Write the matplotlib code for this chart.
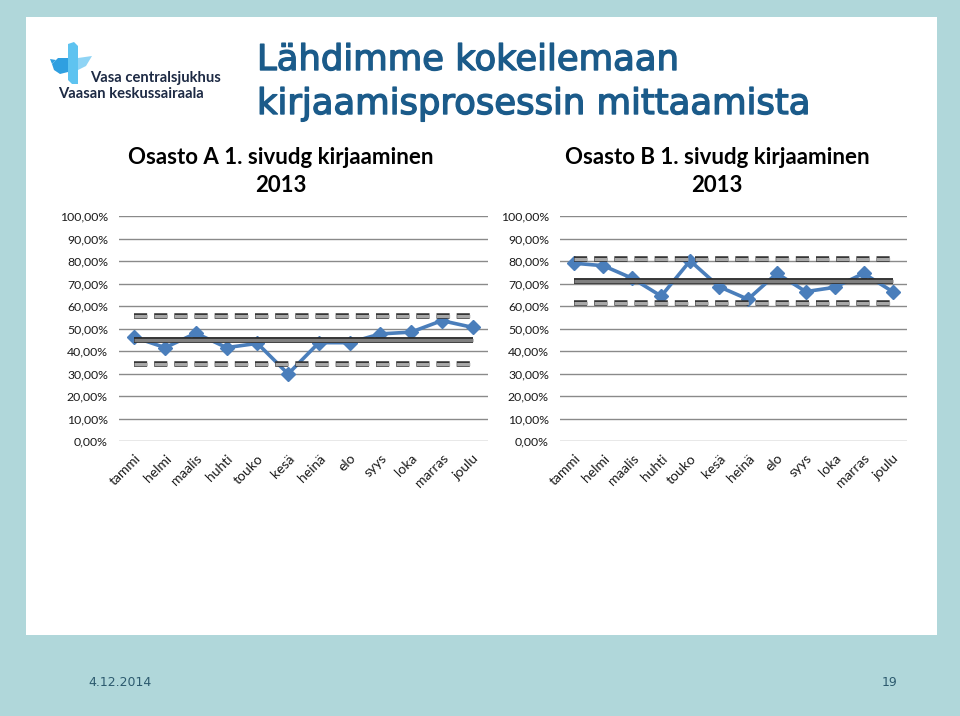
import matplotlib
matplotlib.use('Agg')
import matplotlib.pyplot as plt
import matplotlib.patheffects as pe
from matplotlib.patches import Rectangle, Polygon
from matplotlib.ticker import FuncFormatter
import numpy as np

# months (Finnish)
months = ['tammi', 'helmi', 'maalis', 'huhti', 'touko', 'kesä',
          'heinä', 'elo', 'syys', 'loka', 'marras', 'joulu']

# Osasto A - share of documented records per month
values_a = [0.461, 0.415, 0.479, 0.415, 0.434, 0.298,
            0.437, 0.437, 0.476, 0.484, 0.535, 0.505]
mean_a = 0.449
ucl_a = 0.557
lcl_a = 0.342

# Osasto B
values_b = [0.790, 0.779, 0.723, 0.644, 0.801, 0.686,
            0.630, 0.745, 0.664, 0.683, 0.745, 0.664]
mean_b = 0.713
ucl_b = 0.809
lcl_b = 0.615

title_main = ['Lähdimme kokeilemaan', 'kirjaamisprosessin mittaamista']
title_a = ['Osasto A 1. sivudg kirjaaminen', '2013']
title_b = ['Osasto B 1. sivudg kirjaaminen', '2013']
y_ticks = np.arange(0, 1.01, 0.1)

W, H = 960, 716
BG = '#b0d7da'
BLUE = '#4a7ebb'
TITLE_BLUE = '#1b5b8a'

fig = plt.figure(figsize=(W / 100, H / 100), dpi=100)
fig.patch.set_facecolor(BG)

# slide decoration layer in pixel coordinates
deco = fig.add_axes([0, 0, 1, 1], zorder=0)
deco.set_xlim(0, W)
deco.set_ylim(H, 0)
deco.axis('off')
deco.add_patch(Rectangle((26, 17), 911, 618, facecolor='white', edgecolor='none'))

# logo: simple blue cross / bird
deco.add_patch(Polygon([(68, 44), (74, 42), (78, 46), (78, 84), (72, 84), (68, 80)],
                       closed=True, facecolor='#5ec3f0', edgecolor='none'))
deco.add_patch(Polygon([(78, 58), (92, 56), (86, 66), (78, 70)],
                       closed=True, facecolor='#8fd4f5', edgecolor='none'))
deco.add_patch(Polygon([(52, 64), (58, 58), (68, 58), (68, 72), (60, 74), (54, 70)],
                       closed=True, facecolor='#2f9fe0', edgecolor='none'))
deco.add_patch(Polygon([(52, 64), (50, 59), (56, 60)],
                       closed=True, facecolor='#2f9fe0', edgecolor='none'))
deco.text(90, 78, 'Vasa centralsjukhus', fontsize=10.6, fontweight='bold',
          family='Lato', color='#1d2a44', va='center', ha='left')
deco.text(58, 94, 'Vaasan keskussairaala', fontsize=10.6, fontweight='bold',
          family='Lato', color='#1d2a44', va='center', ha='left')

# main title
thick = [pe.withStroke(linewidth=1.0, foreground=TITLE_BLUE)]
deco.text(257, 60, title_main[0], fontsize=25.5, color=TITLE_BLUE,
          family='DejaVu Sans', va='center', ha='left', path_effects=thick)
deco.text(257, 104, title_main[1], fontsize=25.5, color=TITLE_BLUE,
          family='DejaVu Sans', va='center', ha='left', path_effects=thick)

# chart titles
for cx, lines in [(281, title_a), (717, title_b)]:
    deco.text(cx, 157, lines[0], fontsize=16, fontweight='bold', family='Lato',
              color='black', va='center', ha='center')
    deco.text(cx, 185, lines[1], fontsize=16, fontweight='bold', family='Lato',
              color='black', va='center', ha='center')

# footer
deco.text(88, 683, '4.12.2014', fontsize=9, family='DejaVu Sans Condensed',
          color='#2c5a6e', va='center', ha='left')
deco.text(897, 683, '19', fontsize=9, family='DejaVu Sans Condensed',
          color='#2c5a6e', va='center', ha='right')


def pct(v, pos):
    return '{:.2f}%'.format(v * 100).replace('.', ',')


def draw_chart(rect, values, mean, ucl, lcl):
    ax = fig.add_axes(rect, zorder=2)
    ax.set_facecolor('none')
    x = np.arange(len(months))
    ax.set_xlim(-0.5, len(months) - 0.5)
    ax.set_ylim(0, 1)
    ax.set_yticks(y_ticks)
    ax.yaxis.set_major_formatter(FuncFormatter(pct))
    ax.set_xticks(x)
    ax.set_xticklabels(months, rotation=45, ha='right', rotation_mode='anchor')
    for sp in ax.spines.values():
        sp.set_visible(False)
    ax.tick_params(length=0, colors='#1a1a1a')
    ax.tick_params(axis='y', pad=8, labelsize=8.8)
    ax.tick_params(axis='x', pad=8, labelsize=10)
    for lab in ax.get_xticklabels() + ax.get_yticklabels():
        lab.set_family('Lato')
    ax.grid(axis='y', color='#8a8a8a', linewidth=1)
    ax.set_axisbelow(True)

    ax.plot(x, values, color=BLUE, linewidth=2.6, marker='D', markersize=7,
            markerfacecolor=BLUE, markeredgecolor=BLUE, zorder=3)

    ax.plot(x, [mean] * len(x), color='#808080', linewidth=2.4, zorder=4,
            solid_capstyle='butt',
            path_effects=[pe.Stroke(linewidth=4.2, foreground='#2a2a2a'), pe.Normal()])
    for lvl in (ucl, lcl):
        ax.plot(x, [lvl] * len(x), color='#a8a8a8', linewidth=2.2, zorder=4,
                dashes=(4.3, 2.3), dash_capstyle='butt',
                path_effects=[pe.Stroke(linewidth=4.0, foreground='#333333'), pe.Normal()])
    return ax


def to_rect(x0, x1, y_top, y_bot):
    return [x0 / W, 1 - y_bot / H, (x1 - x0) / W, (y_bot - y_top) / H]


draw_chart(to_rect(119, 488, 216, 441), values_a, mean_a, ucl_a, lcl_a)
draw_chart(to_rect(560, 907, 216, 441), values_b, mean_b, ucl_b, lcl_b)

fig.savefig('out.png', dpi=100, facecolor=BG)
